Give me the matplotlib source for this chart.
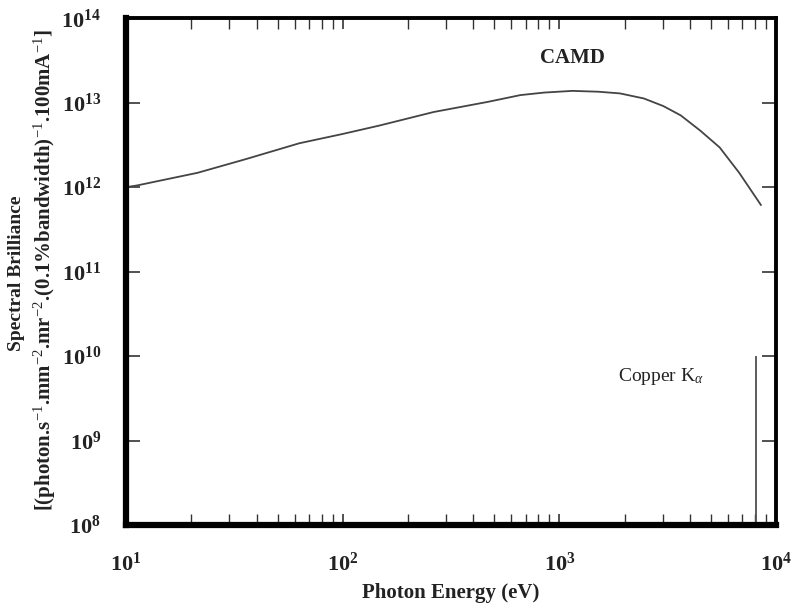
import numpy as np
import matplotlib.pyplot as plt
from matplotlib.ticker import LogLocator, NullFormatter, FuncFormatter

plt.rcParams['font.family'] = ['Liberation Serif', 'DejaVu Serif']
plt.rcParams['mathtext.fontset'] = 'custom'
plt.rcParams['mathtext.rm'] = 'Liberation Serif'
plt.rcParams['mathtext.it'] = 'Liberation Serif:italic'
plt.rcParams['mathtext.bf'] = 'Liberation Serif:bold'

# CAMD spectral brilliance curve (log10 of energy in eV, log10 of brilliance)
log_energy = [1.00, 1.05, 1.33, 1.55, 1.80, 2.00, 2.17, 2.42, 2.67, 2.82,
              2.93, 3.06, 3.18, 3.28, 3.39, 3.48, 3.56, 3.65, 3.74, 3.83, 3.93]
log_brill = [12.00, 12.02, 12.17, 12.33, 12.52, 12.63, 12.73, 12.89, 13.01,
             13.09, 13.12, 13.14, 13.13, 13.11, 13.05, 12.96, 12.85, 12.67,
             12.47, 12.17, 11.79]

energy = 10 ** np.array(log_energy)
brill = 10 ** np.array(log_brill)

cu_ka_energy = 8050
cu_ka_top = 1e10

fig = plt.figure(figsize=(7.93, 6.08), dpi=100)
ax = fig.add_axes([0.159, 0.1365, 0.8196, 0.8335])

ax.plot(energy, brill, color='#444444', lw=1.3)
ax.vlines(cu_ka_energy, 1e8, cu_ka_top, color='#505050', lw=1.3)

ax.set_xscale('log')
ax.set_yscale('log')
ax.set_xlim(10, 1e4)
ax.set_ylim(1e8, 1e14)

ax.text(10 ** 3.06, 10 ** 13.53, 'CAMD', ha='center', va='center',
        fontsize=15, fontweight='bold', color='#222')
ax.text(10 ** 3.47, 10 ** 9.76, r'Copper K$_\alpha$', ha='center', va='center',
        fontsize=14, color='#222')

ax.xaxis.set_major_locator(LogLocator(base=10, numticks=10))
ax.xaxis.set_minor_locator(LogLocator(base=10, subs=np.arange(2, 10), numticks=20))
ax.xaxis.set_minor_formatter(NullFormatter())
ax.yaxis.set_major_locator(LogLocator(base=10, numticks=10))
ax.yaxis.set_minor_locator(plt.NullLocator())

fmt = FuncFormatter(lambda v, p: r'$\mathbf{10^{%d}}$' % round(np.log10(v)))
ax.xaxis.set_major_formatter(fmt)
ax.yaxis.set_major_formatter(fmt)

ax.tick_params(which='major', direction='in', length=10, width=1.1,
               top=True, right=True, labelsize=16, colors='#222')
ax.tick_params(which='minor', direction='in', length=8, width=1.0,
               top=True, right=True, colors='#333')
ax.tick_params(axis='x', which='major', length=8, pad=20)
ax.tick_params(axis='y', which='major', pad=18)

ax.spines['left'].set_linewidth(4.5)
ax.spines['bottom'].set_linewidth(4.5)
ax.spines['top'].set_linewidth(2.8)
ax.spines['right'].set_linewidth(2.8)

ax.set_xlabel('Photon Energy (eV)', fontsize=15, fontweight='bold',
              color='#222', labelpad=5)
fig.text(0.021, 0.55, 'Spectral Brilliance', rotation=90, ha='center',
         va='center', fontsize=14, fontweight='bold', color='#222')
fig.text(0.056, 0.555,
         r'[(photon.s$^{-1}$.mm$^{-2}$.mr$^{-2}$.(0.1%bandwidth)$^{-1}$.100mA$^{-1}$]',
         rotation=90, ha='center', va='center', fontsize=15,
         fontweight='bold', color='#222')

fig.savefig('out.png', dpi=100)
